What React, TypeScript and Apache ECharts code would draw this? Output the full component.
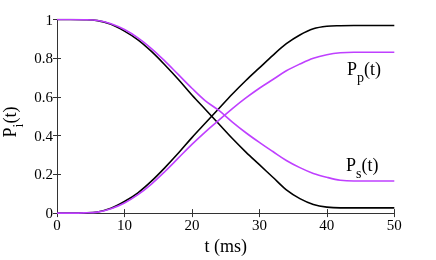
import React, { useEffect, useRef } from "react";
import * as echarts from "echarts";

const tValues = [0, 2, 4, 6, 8, 10, 12, 14, 16, 18, 20, 22, 24, 26, 28, 30, 32, 34, 36, 38, 40, 42, 44, 46, 48, 50];
const ppBlack = [0, 0, 0.001, 0.006, 0.025, 0.06, 0.105, 0.165, 0.235, 0.31, 0.39, 0.465, 0.54, 0.615, 0.685, 0.75, 0.815, 0.875, 0.92, 0.952, 0.965, 0.968, 0.969, 0.969, 0.969, 0.969];
const psBlack = [1, 1, 0.999, 0.994, 0.975, 0.94, 0.895, 0.835, 0.765, 0.69, 0.61, 0.535, 0.46, 0.385, 0.315, 0.25, 0.185, 0.12, 0.075, 0.045, 0.031, 0.027, 0.027, 0.027, 0.027, 0.027];
const ppPurple = [0, 0, 0.001, 0.005, 0.022, 0.052, 0.095, 0.15, 0.215, 0.285, 0.355, 0.42, 0.48, 0.54, 0.595, 0.645, 0.69, 0.735, 0.77, 0.8, 0.818, 0.828, 0.831, 0.831, 0.831, 0.831];
const psPurple = [1, 1, 0.999, 0.995, 0.978, 0.948, 0.905, 0.85, 0.785, 0.715, 0.645, 0.58, 0.53, 0.47, 0.415, 0.365, 0.318, 0.272, 0.235, 0.205, 0.185, 0.17, 0.166, 0.166, 0.166, 0.166];

const FONT = "Liberation Serif";
const BLACK = "#000000";
const PURPLE = "#bf40ff";

export default function App() {
  const ref = useRef<HTMLDivElement>(null);
  useEffect(() => {
    const chart = echarts.init(ref.current as HTMLDivElement, null, { renderer: "svg" });
    const pairs = (vals: number[]) => tValues.map((t, i) => [t, vals[i]]);
    const axisLine = { show: true, lineStyle: { color: "#333", width: 1 } };
    const tick = { show: true, inside: true, length: 4, lineStyle: { color: "#333" } };
    const labelStyle = { color: "#000", fontFamily: FONT, fontSize: 15 };
    const rich = {
      m: { fontFamily: FONT, fontSize: 18, color: "#000" },
      s: { fontFamily: FONT, fontSize: 14, color: "#000", padding: [16, 0, 0, 0] },
    };
    const line = (name: string, vals: number[], color: string) => ({
      name,
      type: "line",
      data: pairs(vals),
      showSymbol: false,
      smooth: 0.35,
      lineStyle: { color, width: 1.6 },
      itemStyle: { color },
      xAxisIndex: 0,
      yAxisIndex: 0,
    });
    chart.setOption({
      animation: false,
      textStyle: { fontFamily: FONT },
      grid: { left: 57, top: 19.5, right: 41.7, bottom: 38.3 },
      xAxis: [
        {
          type: "value", min: 0, max: 50, interval: 10, position: "bottom",
          axisLine, axisTick: tick, splitLine: { show: false },
          axisLabel: { ...labelStyle, margin: 4 },
          name: "t (ms)", nameLocation: "middle", nameGap: 18,
          nameTextStyle: { color: "#000", fontFamily: FONT, fontSize: 18 },
        },
        {
          type: "value", min: 0, max: 50, interval: 10, position: "top",
          axisLine, axisTick: tick, splitLine: { show: false }, axisLabel: { show: false },
        },
      ],
      yAxis: [
        {
          type: "value", min: 0, max: 1, interval: 0.2, position: "left",
          axisLine, axisTick: tick, splitLine: { show: false },
          axisLabel: { ...labelStyle, margin: 4 },
        },
        {
          type: "value", min: 0, max: 1, interval: 0.2, position: "right",
          axisLine, axisTick: tick, splitLine: { show: false }, axisLabel: { show: false },
        },
      ],
      series: [
        line("Ps black", psBlack, BLACK),
        line("Pp black", ppBlack, BLACK),
        line("Ps purple", psPurple, PURPLE),
        line("Pp purple", ppPurple, PURPLE),
      ],
      graphic: [
        {
          type: "text", x: 347, y: 69,
          style: { text: "{m|P}{s|p}{m|(t)}", rich, align: "left", verticalAlign: "middle", fontFamily: FONT },
        },
        {
          type: "text", x: 346, y: 165,
          style: { text: "{m|P}{s|s}{m|(t)}", rich, align: "left", verticalAlign: "middle", fontFamily: FONT },
        },
        {
          type: "text", x: 10, y: 122, rotation: Math.PI / 2,
          style: { text: "{m|P}{s|i}{m|(t)}", rich, align: "center", verticalAlign: "middle", fontFamily: FONT },
        },
      ],
    });
    return () => chart.dispose();
  }, []);
  return <div ref={ref} style={{ position: "fixed", left: 0, top: 0, width: 436, height: 260 }} />;
}
